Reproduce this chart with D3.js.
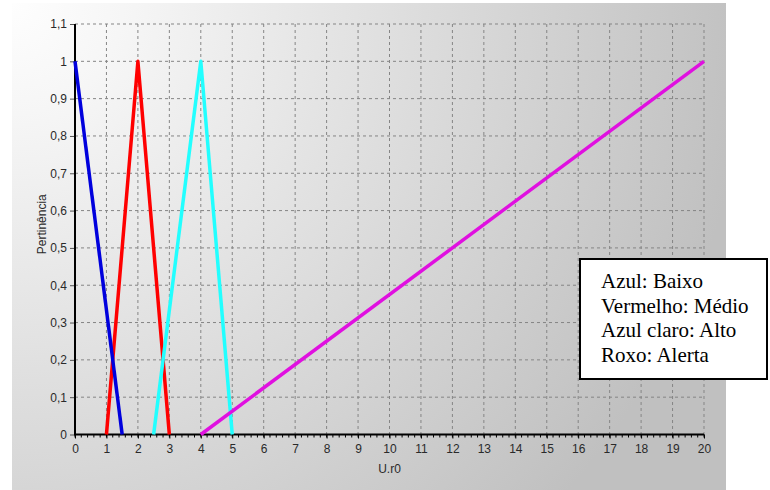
<!DOCTYPE html>
<html>
<head>
<meta charset="utf-8">
<script src="https://cdn.jsdelivr.net/npm/d3@7"></script>
<style>
  body { margin: 0; background: #fff; }
  svg { display: block; }
</style>
</head>
<body>
<svg id="chart" width="770" height="490"></svg>
<script>
// pertinence functions (x = U.r0, y = pertinência)
const baixo = [[0, 1], [1.5, 0]];
const medio = [[1, 0], [2, 1], [3, 0]];
const alto = [[2.5, 0], [4, 1], [5, 0]];
const alerta = [[4, 0], [20, 1]];

const xTicks = d3.range(0, 21);
const yTicks = [0, 0.1, 0.2, 0.3, 0.4, 0.5, 0.6, 0.7, 0.8, 0.9, 1, 1.1];
const legendLines = ["Azul: Baixo", "Vermelho: Médio", "Azul claro: Alto", "Roxo: Alerta"];

const series = [
    { name: "medio", pts: medio, color: "#ff0000" },
    { name: "alto", pts: alto, color: "#22ffff" },
    { name: "alerta", pts: alerta, color: "#e010e0" },
    { name: "baixo", pts: baixo, color: "#0000dd" }
];

const svg = d3.select("#chart");

const margin = { top: 24, right: 66, bottom: 55, left: 75 };
const width = 770, height = 490;
const innerWidth = width - margin.left - margin.right;
const innerHeight = height - margin.top - margin.bottom - 0.5;

// background panel
const defs = svg.append("defs");
const grad = defs.append("radialGradient")
    .attr("id", "bg")
    .attr("gradientUnits", "userSpaceOnUse")
    .attr("cx", 12).attr("cy", 3).attr("r", 740);
grad.append("stop").attr("offset", "0%").attr("stop-color", "#fefefe");
grad.append("stop").attr("offset", "15%").attr("stop-color", "#f6f6f6");
grad.append("stop").attr("offset", "100%").attr("stop-color", "#c0c0c0");

svg.append("rect")
    .attr("x", 12).attr("y", 3)
    .attr("width", 714).attr("height", 487)
    .attr("fill", "url(#bg)");

const x = d3.scaleLinear().domain([0, 20]).range([0, innerWidth]);
const y = d3.scaleLinear().domain([0, 1.1]).range([innerHeight, 0]);

const g = svg.append("g")
    .attr("transform", `translate(${margin.left},${margin.top})`);

const fmt = d => d3.format(".1~f")(d).replace(".", ",");

// grid
g.append("g")
    .selectAll("line")
    .data(yTicks.slice(1))
    .join("line")
    .attr("x1", 0).attr("x2", innerWidth)
    .attr("y1", d => y(d)).attr("y2", d => y(d))
    .attr("stroke", "#858585")
    .attr("stroke-width", 1)
    .attr("stroke-dasharray", "3,3");

g.append("g")
    .selectAll("line")
    .data(xTicks.slice(1))
    .join("line")
    .attr("x1", d => x(d)).attr("x2", d => x(d))
    .attr("y1", 0).attr("y2", innerHeight)
    .attr("stroke", "#858585")
    .attr("stroke-width", 1)
    .attr("stroke-dasharray", "3,3");

// y axis
const yAxis = g.append("g")
    .call(d3.axisLeft(y).tickValues(yTicks).tickFormat(fmt).tickSize(5).tickPadding(3));
yAxis.select(".domain").remove();
yAxis.selectAll(".tick line").attr("stroke", "#555");
yAxis.selectAll("text")
    .style("font-family", "Arial, 'Liberation Sans', sans-serif")
    .style("font-size", "12px")
    .attr("fill", "#2a2a2a");

// x axis, minor ticks (no labels)
const xAxisG = g.append("g")
    .attr("transform", `translate(0,${innerHeight})`);
xAxisG.append("g")
    .selectAll("line")
    .data(x.ticks(100))
    .join("line")
    .attr("x1", d => x(d)).attr("x2", d => x(d))
    .attr("y1", 0).attr("y2", 3)
    .attr("stroke", "#000");
const xAxis = xAxisG.append("g")
    .call(d3.axisBottom(x).tickValues(xTicks).tickSize(4).tickPadding(6));
xAxis.select(".domain").remove();
xAxis.selectAll(".tick line").attr("stroke", "#000");
xAxis.selectAll("text")
    .style("font-family", "Arial, 'Liberation Sans', sans-serif")
    .style("font-size", "12px")
    .attr("fill", "#2a2a2a");

// axis lines
g.append("line")
    .attr("x1", 0).attr("x2", 0)
    .attr("y1", 0).attr("y2", innerHeight)
    .attr("stroke", "#000").attr("stroke-width", 2);
g.append("line")
    .attr("x1", -1).attr("x2", innerWidth)
    .attr("y1", innerHeight).attr("y2", innerHeight)
    .attr("stroke", "#000").attr("stroke-width", 2);

// series
const line = d3.line().x(d => x(d[0])).y(d => y(d[1]));
series.forEach(s => {
    g.append("path")
        .datum(s.pts)
        .attr("class", `line-${s.name}`)
        .attr("d", line)
        .attr("fill", "none")
        .attr("stroke", s.color)
        .attr("stroke-width", 3.5)
        .attr("stroke-linejoin", "round");
});

// axis titles
g.append("text")
    .attr("x", innerWidth / 2)
    .attr("y", innerHeight + 38)
    .attr("text-anchor", "middle")
    .style("font-family", "Arial, 'Liberation Sans', sans-serif")
    .style("font-size", "12px")
    .attr("fill", "#2a2a2a")
    .text("U.r0");

g.append("text")
    .attr("transform", "rotate(-90)")
    .attr("x", -innerHeight / 2 + 5)
    .attr("y", -margin.left + 46)
    .attr("text-anchor", "middle")
    .style("font-family", "Arial, 'Liberation Sans', sans-serif")
    .style("font-size", "12px")
    .attr("fill", "#2a2a2a")
    .text("Pertinência");

// legend box
const legend = svg.append("g");
legend.append("rect")
    .attr("x", 580).attr("y", 259)
    .attr("width", 187).attr("height", 120)
    .attr("fill", "#fff")
    .attr("stroke", "#000")
    .attr("stroke-width", 2);
legend.selectAll("text")
    .data(legendLines)
    .join("text")
    .attr("x", 601)
    .attr("y", (d, i) => 288 + i * 24.6)
    .style("font-family", "'Times New Roman', 'Liberation Serif', serif")
    .style("font-size", "21px")
    .attr("fill", "#000")
    .text(d => d);
</script>
</body>
</html>
